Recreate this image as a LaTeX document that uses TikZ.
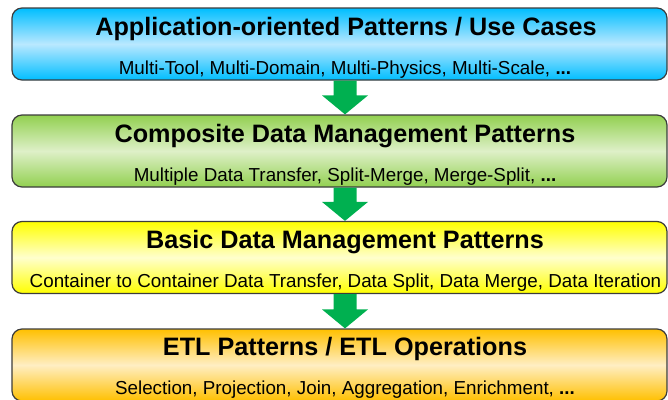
\documentclass[tikz,border=0pt]{standalone}
\usepackage{fontspec}
\setmainfont{Liberation Sans}
\usetikzlibrary{calc}
\definecolor{cyanTop}{RGB}{0,190,255}
\definecolor{cyanMid}{RGB}{185,232,255}
\definecolor{greenTop}{RGB}{146,208,80}
\definecolor{greenMid}{RGB}{222,240,200}
\definecolor{yellowTop}{RGB}{255,255,0}
\definecolor{yellowMid}{RGB}{255,255,205}
\definecolor{orangeTop}{RGB}{255,192,0}
\definecolor{orangeMid}{RGB}{255,238,195}
\definecolor{arrowGreen}{RGB}{0,176,80}
\definecolor{edgeGray}{RGB}{60,60,60}
\tikzset{
  layer/.style={draw=edgeGray, line width=1.2pt, rounded corners=10pt,
    minimum width=655pt, minimum height=72pt, inner sep=0pt},
  layershade/.style 2 args={top color=#1, bottom color=#1, middle color=#2},
  title/.style={font=\fontsize{25.2}{28}\selectfont\bfseries, inner sep=0pt, anchor=base},
  subtitle/.style={font=\fontsize{18.8}{21}\selectfont, inner sep=0pt, anchor=base},
  downarrow/.style={fill=arrowGreen, draw=none},
}
\begin{document}
\begin{tikzpicture}[x=1pt, y=-1pt]
\useasboundingbox (0,0) rectangle (668,399);

% the four layers
\node[layer, layershade={cyanTop}{cyanMid}] (app) at (339.5,44) {};
\node[layer, layershade={greenTop}{greenMid}] (comp) at (339.5,151) {};
\node[layer, layershade={yellowTop}{yellowMid}] (basic) at (339.5,257.5) {};
\node[layer, layershade={orangeTop}{orangeMid}] (etl) at (339.5,365) {};

% layer texts
\node[title] (appT) at (346,35) {Application-oriented Patterns / Use Cases};
\node[subtitle] (appS) at (345,74) {Multi-Tool, Multi-Domain, Multi-Physics, Multi-Scale, \textbf{...}};
\node[title] (compT) at (345,142) {Composite Data Management Patterns};
\node[subtitle] (compS) at (345,181) {Multiple Data Transfer, Split-Merge, Merge-Split, \textbf{...}};
\node[title] (basicT) at (345,248) {Basic Data Management Patterns};
\node[subtitle] (basicS) at (345.5,287) {Container to Container Data Transfer, Data Split, Data Merge, Data Iteration};
\node[title] (etlT) at (345,355) {ETL Patterns / ETL Operations};
\node[subtitle] (etlS) at (345,394) {Selection, Projection, Join, Aggregation, Enrichment, \textbf{...}};

% block arrows between layers
\foreach \a/\b in {app/comp, comp/basic, basic/etl}{
  \path let \p1=(\a.south), \p2=(\b.north) in
    coordinate (s) at (345,\y1) coordinate (t) at (345,\y2);
  \fill[downarrow] let \p1=(s), \p2=(t) in
    (\x1-11.5,\y1) -- (\x1+11.5,\y1) -- (\x1+11.5,\y2+19) -- (\x1+23,\y2+19)
    -- (\x2,\y2) -- (\x1-23,\y2+19) -- (\x1-11.5,\y2+19) -- cycle;
}
\end{tikzpicture}
\end{document}
